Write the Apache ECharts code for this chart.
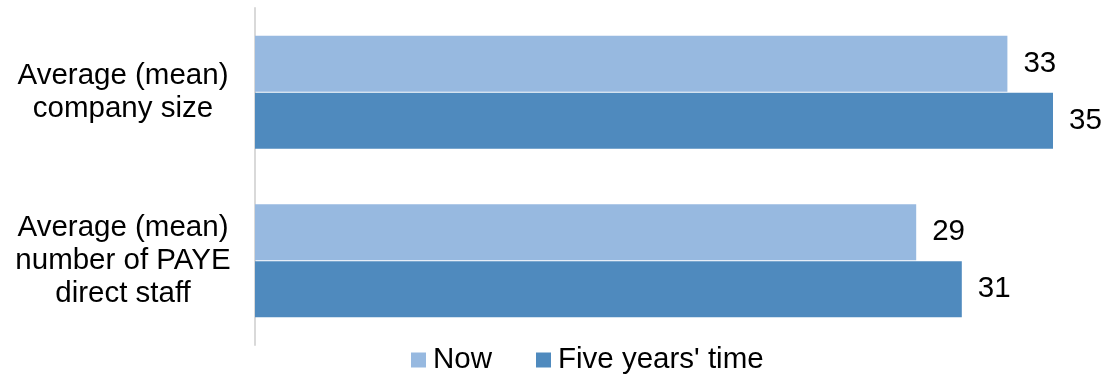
<!DOCTYPE html>
<html>
<head>
<meta charset="utf-8">
<script src="https://cdn.jsdelivr.net/npm/echarts@6/dist/echarts.min.js"></script>
<style>
  html, body { margin: 0; padding: 0; background: #ffffff; }
  #chart { width: 1106px; height: 374px; }
</style>
</head>
<body>
<div id="chart"></div>
<script>
// Company size measures, now and in five years' time
const categories = ['Average (mean)\ncompany size', 'Average (mean)\nnumber of PAYE\ndirect staff'];
const seriesNames = ['Now', "Five years' time"];
const nowValues = [33, 29];
const fiveYearValues = [35, 31];

const FONT = '"Liberation Sans", Arial, sans-serif';
const FONT_SIZE = 29.5;
const colors = ['#97B9E0', '#4F8ABE'];

const chart = echarts.init(document.getElementById('chart'));

const valueLabel = {
  show: true,
  position: 'right',
  distance: 16,
  color: '#000000',
  fontSize: FONT_SIZE,
  fontFamily: FONT
};

chart.setOption({
  animation: false,
  textStyle: { fontFamily: FONT },
  grid: { left: 255, right: 53, top: 8, bottom: 29, containLabel: false },
  legend: {
    data: seriesNames,
    left: 406,
    top: 340,
    icon: 'rect',
    itemWidth: 15,
    itemHeight: 15,
    itemGap: 44,
    textStyle: { fontSize: FONT_SIZE, color: '#000000', fontFamily: FONT, padding: [0, 0, 0, 2] }
  },
  xAxis: {
    type: 'value',
    min: 0,
    max: 35,
    show: false
  },
  yAxis: {
    type: 'category',
    data: categories,
    inverse: true,
    axisLine: { show: true, lineStyle: { color: '#D9D9D9', width: 2 } },
    axisTick: { show: false },
    axisLabel: {
      align: 'center',
      margin: 132,
      fontSize: FONT_SIZE,
      lineHeight: 33,
      color: '#000000',
      fontFamily: FONT
    },
    splitLine: { show: false }
  },
  series: [
    {
      name: seriesNames[0],
      type: 'bar',
      data: nowValues,
      itemStyle: { color: colors[0] },
      barGap: '2%',
      barCategoryGap: '33%',
      label: valueLabel
    },
    {
      name: seriesNames[1],
      type: 'bar',
      data: fiveYearValues,
      itemStyle: { color: colors[1] },
      barGap: '2%',
      barCategoryGap: '33%',
      label: valueLabel
    }
  ]
});
</script>
</body>
</html>
